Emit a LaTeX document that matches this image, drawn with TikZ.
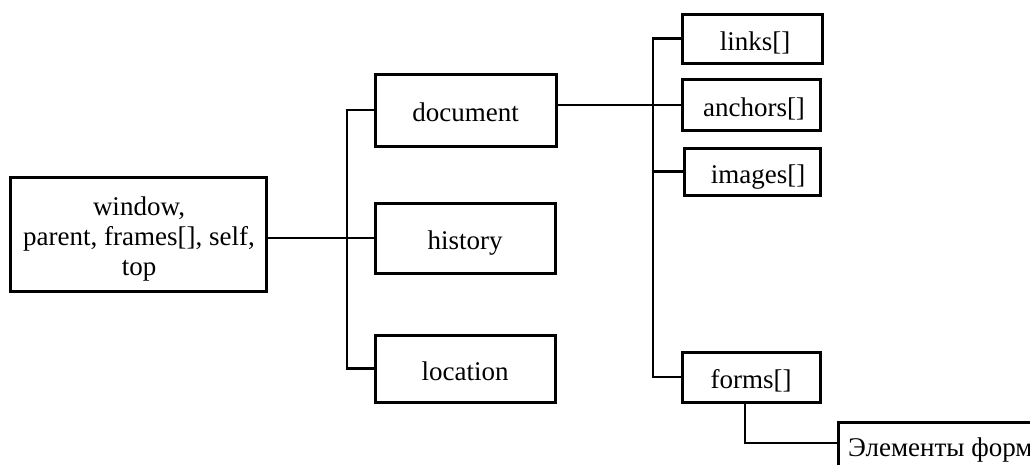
\documentclass[tikz,border=0pt]{standalone}
\usepackage{fontspec}
\setmainfont{Liberation Serif}
\begin{document}
\begin{tikzpicture}[x=1pt,y=-1pt,
  box/.style={draw,line width=3pt,inner sep=0pt,align=center,font=\fontsize{27}{30}\selectfont,text height=23pt,text depth=0pt},
  txt/.style={inner sep=0pt,align=center,font=\fontsize{27}{30}\selectfont},
  conn/.style={line width=2.8pt}]
\useasboundingbox (0,0) rectangle (1030,464);
\node[draw,line width=3pt,inner sep=0pt,minimum width=256,minimum height=114] (window) at (138,234.5) {};
\node[txt] (wtext) at (139,239) {window,\\parent, frames[], self,\\top};
\node[box,minimum width=181,minimum height=72] (document) at (465.5,110) {document};
\node[box,minimum width=180,minimum height=70] (history) at (465,238) {history};
\node[box,minimum width=180,minimum height=67] (location) at (465,368.5) {location};
\node[box,minimum width=140,minimum height=49] (links) at (752,38.5) {\hspace*{6pt}links[]};
\node[box,minimum width=138,minimum height=51] (anchors) at (751,105) {\hspace*{6pt}anchors[]};
\node[box,minimum width=136,minimum height=47] (images) at (752,171.5) {\hspace*{12pt}images[]};
\node[box,minimum width=138,minimum height=50] (forms) at (751,377) {forms[]};
\node[draw,line width=3pt,inner sep=0pt,minimum width=240,minimum height=64,anchor=north west] (elements) at (837,421) {};
\node[txt,anchor=base west] (elemtext) at (848,456) {Элементы форм};
% bus 1
\coordinate (b1) at (347,0);
\draw[conn] (window.east |- history.west) -- (history.west);
\draw[conn] (document.west) -- (document.west -| b1) |- (location.west);
% bus 2
\coordinate (b2) at (653,0);
\draw[conn] (document.east |- anchors.west) -- (anchors.west);
\draw[conn] (links.west) -- (links.west -| b2) |- (forms.west);
\draw[conn] (images.west) -- (images.west -| b2);
% forms to elements
\coordinate (e1) at (745,443);
\draw[conn] (forms.south -| e1) -- (e1) -- (e1 -| elements.west);
\end{tikzpicture}
\end{document}
